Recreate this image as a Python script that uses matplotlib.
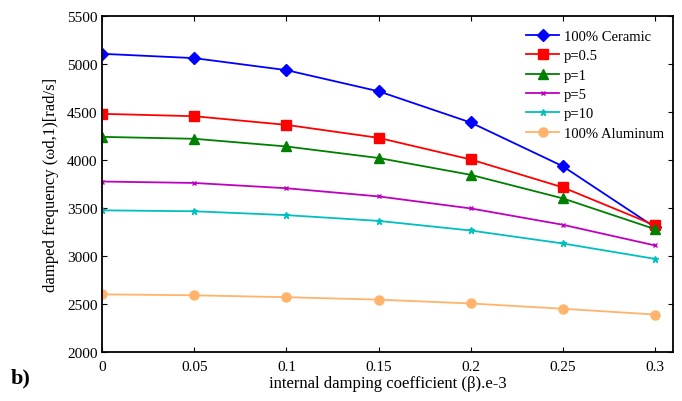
import matplotlib
matplotlib.use('Agg')
from matplotlib import pyplot as plt

plt.rcParams['font.family'] = ['Liberation Serif', 'DejaVu Serif']
plt.rcParams['mathtext.fontset'] = 'stix'

beta = [0, 0.05, 0.1, 0.15, 0.2, 0.25, 0.3]
ceramic = [5105, 5060, 4935, 4715, 4390, 3935, 3300]
p05 = [4480, 4455, 4365, 4230, 4005, 3715, 3320]
p1 = [4240, 4220, 4140, 4020, 3845, 3600, 3280]
p5 = [3775, 3760, 3705, 3620, 3495, 3325, 3110]
p10 = [3475, 3465, 3425, 3365, 3265, 3130, 2970]
aluminum = [2600, 2590, 2570, 2545, 2505, 2450, 2390]

series = [
    (ceramic, '100% Ceramic', (0, 0, 1), 'D', 6.5),
    (p05, 'p=0.5', (1, 0, 0), 's', 7.5),
    (p1, 'p=1', (0, 0.5, 0), '^', 7.5),
    (p5, 'p=5', (0.75, 0, 0.75), 'x', 3),
    (p10, 'p=10', (0, 0.75, 0.75), '*', 5),
    (aluminum, '100% Aluminum', (1, 0.7, 0.42), 'o', 6.5),
]

fig = plt.figure(figsize=(6.82, 4.02), dpi=100)
ax = fig.add_axes([0.150, 0.122, 0.837, 0.836])
for vals, lab, col, mk, ms in series:
    ax.plot(beta, vals, color=col, marker=mk, markersize=ms, lw=1.3,
            markeredgecolor=col, markerfacecolor=col, label=lab)

ax.set_xlim(0, 0.31)
ax.set_ylim(2000, 5500)
ax.set_xticks(beta)
ax.set_xticklabels(['0', '0.05', '0.1', '0.15', '0.2', '0.25', '0.3'])
ax.set_yticks(range(2000, 5501, 500))
ax.tick_params(direction='in', top=True, right=True, labelsize=11, length=3.5)
ax.tick_params(axis='x', pad=6)
for s in ax.spines.values():
    s.set_linewidth(1.3)

ax.set_xlabel('internal damping coefficient (β).e-3', fontsize=12, labelpad=1)
ax.set_ylabel('damped frequency (ωd,1)[rad/s]', fontsize=12, labelpad=6)
ax.legend(loc='upper right', bbox_to_anchor=(1.008, 1.0), frameon=False,
          fontsize=10.5, handlelength=2.3, handletextpad=0.3,
          borderaxespad=0.55, labelspacing=0.42)

fig.text(0.015, 0.045, 'b)', fontsize=16, fontweight='bold')

fig.savefig('out.png', dpi=100)
